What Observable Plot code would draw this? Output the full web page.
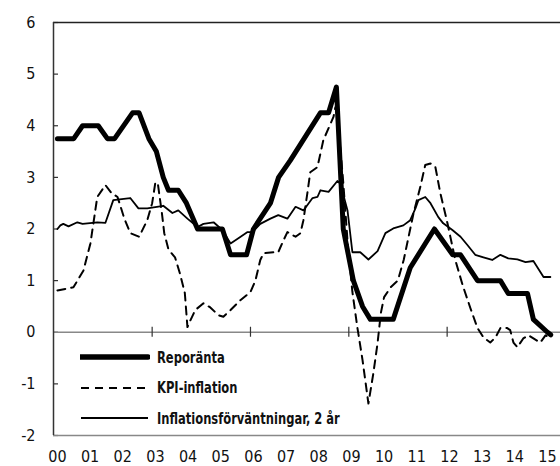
<!DOCTYPE html>
<html>
<head>
<meta charset="utf-8">
<script src="https://cdn.jsdelivr.net/npm/d3@7"></script>
<script src="https://cdn.jsdelivr.net/npm/@observablehq/plot@0.6"></script>
<style>
  html, body { margin: 0; padding: 0; background: #fff; }
  #wrap { position: relative; width: 560px; height: 466px; font-family: "DejaVu Sans Condensed", "DejaVu Sans", sans-serif; font-stretch: condensed; }
  #wrap svg text { font-stretch: condensed; }
  #legend { position: absolute; left: 80px; top: 342px; }
  .row { display: flex; align-items: center; height: 30.5px; }
  .row svg { display: block; margin-right: 7px; flex: none; }
  .row span { display: inline-block; white-space: nowrap; font-weight: bold; font-size: 16px; color: #111; font-stretch: condensed; transform: scaleX(0.8); transform-origin: left center; }
</style>
</head>
<body>
<div id="wrap"><div id="legend"></div></div>
<script>
// x = years since 2000 (0 = "00")
const yearLabels = ["00","01","02","03","04","05","06","07","08","09","10","11","12","13","14","15"];
const yTicks = [-2,-1,0,1,2,3,4,5,6];
const zeroTicks = [2.90, 5.91, 8.92, 11.93];

const seriesNames = ["Reporänta", "KPI-inflation", "Inflationsförväntningar, 2 år"];

const repoYear  = [0.00,0.50,0.77,1.25,1.53,1.75,2.30,2.50,2.80,3.03,3.24,3.40,3.70,3.95,4.29,5.05,5.30,5.79,6.00,6.52,6.77,7.13,8.05,8.30,8.54,8.75,9.06,9.34,9.58,10.28,10.80,11.54,12.10,12.34,12.86,13.56,13.80,14.39,14.57,15.00,15.10];
const repoValue = [3.75,3.75,4.00,4.00,3.75,3.75,4.25,4.25,3.75,3.50,3.00,2.75,2.75,2.50,2.00,2.00,1.50,1.50,2.00,2.50,3.00,3.33,4.25,4.25,4.75,2.00,1.00,0.50,0.25,0.25,1.25,2.00,1.50,1.50,1.00,1.00,0.75,0.75,0.25,0.00,-0.05];

const kpiYear  = [0.00,0.49,0.80,1.01,1.22,1.47,1.65,1.84,2.05,2.23,2.50,2.75,2.90,3.00,3.08,3.20,3.27,3.40,3.60,3.75,3.90,3.98,4.07,4.22,4.47,4.68,4.93,5.08,5.30,5.60,5.91,6.06,6.21,6.31,6.61,6.76,6.92,7.04,7.29,7.44,7.53,7.65,7.74,7.96,8.14,8.45,8.51,8.60,8.75,8.90,9.03,9.18,9.34,9.52,9.67,9.80,9.90,10.00,10.20,10.42,10.60,10.75,10.90,11.11,11.26,11.42,11.57,11.72,11.94,12.18,12.40,12.64,12.86,13.04,13.25,13.41,13.56,13.77,13.86,13.96,14.08,14.26,14.42,14.57,14.78,14.94,15.05];
const kpiValue = [0.81,0.87,1.20,1.72,2.62,2.85,2.70,2.62,2.20,1.92,1.85,2.17,2.50,2.91,2.85,2.30,1.92,1.60,1.45,1.14,0.76,0.10,0.23,0.43,0.56,0.48,0.33,0.30,0.43,0.62,0.78,1.00,1.40,1.53,1.55,1.55,1.78,1.94,1.85,1.92,2.17,2.69,3.10,3.20,3.72,4.17,4.36,4.00,2.90,1.60,0.78,0.10,-0.54,-1.38,-0.80,-0.21,0.37,0.68,0.87,1.00,1.40,1.85,2.30,2.82,3.24,3.27,3.20,2.70,2.11,1.40,0.92,0.47,0.08,-0.10,-0.20,-0.10,0.08,0.08,0.04,-0.20,-0.29,-0.12,-0.06,-0.12,-0.20,-0.06,-0.10];

const expYear  = [0.00,0.09,0.18,0.34,0.61,0.77,1.22,1.47,1.71,2.23,2.48,2.75,3.24,3.52,3.70,3.98,4.29,4.47,4.78,5.05,5.30,5.54,5.82,5.97,6.21,6.52,6.76,7.04,7.29,7.53,7.81,7.96,8.05,8.30,8.57,8.66,8.88,9.03,9.27,9.52,9.80,10.04,10.28,10.59,10.80,10.96,11.05,11.26,11.42,11.66,11.81,12.09,12.34,12.55,12.79,13.04,13.31,13.56,13.80,14.08,14.33,14.57,14.88,15.09];
const expValue = [2.00,2.07,2.10,2.05,2.13,2.10,2.13,2.12,2.56,2.60,2.40,2.40,2.45,2.31,2.36,2.20,2.04,2.10,2.13,1.98,1.72,1.82,1.94,1.94,2.10,2.20,2.27,2.20,2.43,2.36,2.60,2.62,2.75,2.72,2.93,2.88,2.36,1.55,1.55,1.41,1.57,1.92,2.01,2.07,2.17,2.40,2.56,2.62,2.50,2.23,2.11,1.98,1.85,1.69,1.50,1.45,1.40,1.50,1.43,1.41,1.36,1.38,1.07,1.07];

const styles = [
  {stroke: "#000", strokeWidth: 5, dash: null},
  {stroke: "#000", strokeWidth: 2, dash: "8,6"},
  {stroke: "#000", strokeWidth: 1.8, dash: null}
];

const zip = (xs, ys) => xs.map((x, i) => ({x, y: ys[i]}));
const repo = zip(repoYear, repoValue);
const kpi = zip(kpiYear, kpiValue);
const exp = zip(expYear, expValue);

const xMin = -0.12;
const font = '"DejaVu Sans Condensed", "DejaVu Sans", sans-serif';

const chart = Plot.plot({
  width: 560,
  height: 466,
  marginLeft: 53,
  marginRight: 0,
  marginTop: 22,
  marginBottom: 31,
  style: {fontFamily: font, fontSize: "16px", color: "#111", background: "#fff"},
  x: {domain: [xMin, 15.4]},
  y: {domain: [-2, 6]},
  marks: [
    Plot.axisY(yTicks, {tickSize: 0, tickPadding: 18, fontSize: 16, label: null, tickFormat: d => String(d)}),
    Plot.axisY(yTicks, {tickSize: 5, dx: 5, text: null, label: null, stroke: "#333", strokeWidth: 1.2}),
    Plot.axisX(d3.range(0, 16), {tickSize: 0, tickPadding: 15, fontSize: 16, label: null, tickFormat: i => yearLabels[i]}),
    Plot.ruleY([0], {stroke: "#888", strokeWidth: 1.5}),
    Plot.ruleY([-2], {stroke: "#888", strokeWidth: 1.5}),
    Plot.ruleY([6], {stroke: "#222", strokeWidth: 1.5, x1: xMin, x2: 15.4}),
    Plot.ruleX(zeroTicks, {x: d => d, y1: 0, y2: 0, insetTop: -5, insetBottom: -5, stroke: "#333", strokeWidth: 1.2}),
    Plot.ruleX([xMin], {stroke: "#333", strokeWidth: 1.5}),
    Plot.line(exp, {x: "x", y: "y", stroke: styles[2].stroke, strokeWidth: styles[2].strokeWidth, strokeLinejoin: "round"}),
    Plot.line(kpi, {x: "x", y: "y", stroke: styles[1].stroke, strokeWidth: styles[1].strokeWidth, strokeDasharray: styles[1].dash, strokeLinejoin: "round"}),
    Plot.line(repo, {x: "x", y: "y", stroke: styles[0].stroke, strokeWidth: styles[0].strokeWidth, strokeLinejoin: "round", strokeLinecap: "round"})
  ]
});
document.getElementById("wrap").prepend(chart);

const legend = document.getElementById("legend");
seriesNames.forEach((name, i) => {
  const row = document.createElement("div");
  row.className = "row";
  const s = styles[i];
  row.innerHTML = `<svg width="70" height="10"><line x1="1" y1="5" x2="68" y2="5" stroke="${s.stroke}" stroke-width="${i === 0 ? 5.5 : s.strokeWidth}" ${s.dash ? `stroke-dasharray="${s.dash}"` : ""} stroke-linecap="${i === 0 ? "round" : "butt"}"/></svg><span>${name}</span>`;
  legend.appendChild(row);
});
</script>
</body>
</html>
